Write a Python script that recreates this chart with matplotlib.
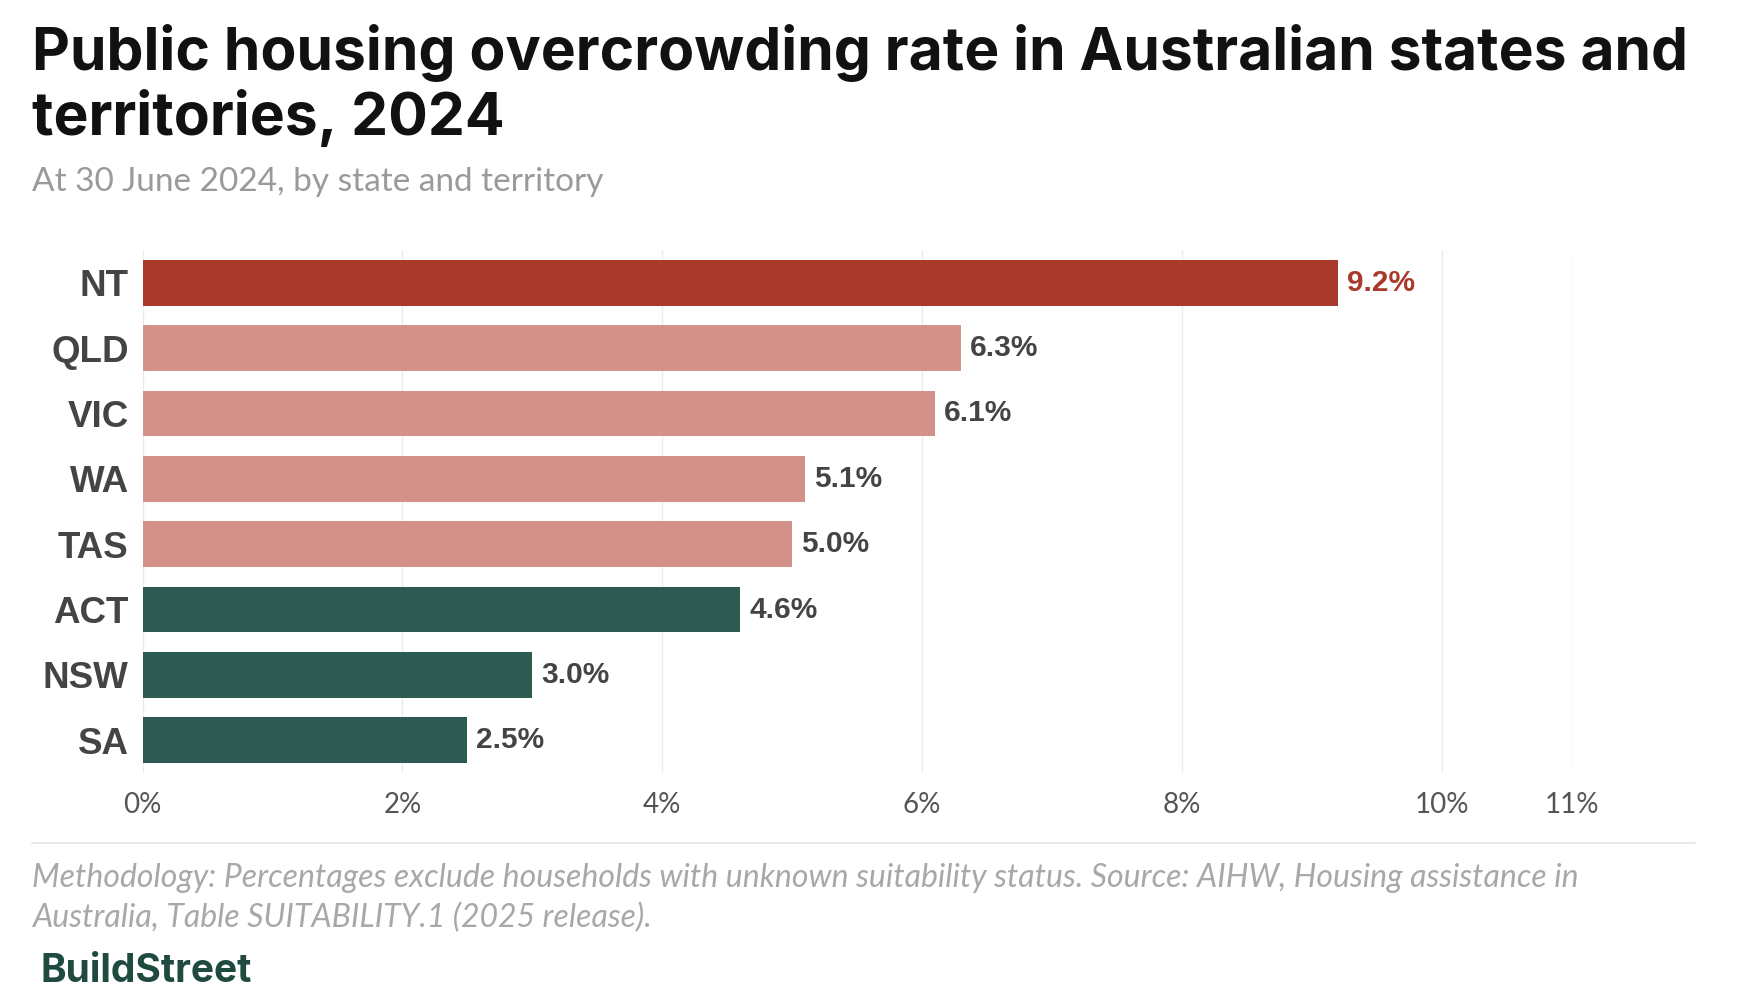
import matplotlib.pyplot as plt

# data (top to bottom)
states = ["NT", "QLD", "VIC", "WA", "TAS", "ACT", "NSW", "SA"]
rates = [9.2, 6.3, 6.1, 5.1, 5.0, 4.6, 3.0, 2.5]
groups = ["high", "mid", "mid", "mid", "mid", "low", "low", "low"]
xticks = [0, 2, 4, 6, 8, 10, 11]

colors = {"high": "#a93a2b", "mid": "#d3918a", "low": "#2d5a51"}
label_colors = {"high": "#a93a2b", "mid": "#444444", "low": "#444444"}

fig = plt.figure(figsize=(17.6, 10), dpi=100)
ax = fig.add_axes([0.081, 0.227, 0.812, 0.523])

ypos = list(range(len(states)))
ax.barh(ypos, rates, height=0.7, color=[colors[g] for g in groups], zorder=2)

for y, v, g in zip(ypos, rates, groups):
    ax.text(v + 0.07, y, f"{v:.1f}%", va="center", ha="left",
            fontsize=21.5, fontweight="bold", family="Liberation Sans",
            color=label_colors[g])

ax.set_xlim(0, 11)
ax.set_ylim(len(states) - 0.5, -0.5)
ax.set_yticks(ypos)
ax.set_yticklabels(states, fontsize=26.5, fontweight="bold",
                   family="Liberation Sans", color="#444444")
ax.set_xticks(xticks)
ax.set_xticklabels([f"{t}%" for t in xticks], fontsize=20, family="Lato",
                   color="#555555")
ax.tick_params(axis="both", length=0)
ax.tick_params(axis="x", pad=14)
ax.tick_params(axis="y", pad=10)
ax.grid(axis="x", color="#ebebeb", linewidth=1, zorder=0)
for s in ax.spines.values():
    s.set_visible(False)

# titles
fig.text(0.018, 0.930, "Public housing overcrowding rate in Australian states and",
         fontsize=42.3, fontweight="bold", family="Inter", color="#111111", va="baseline")
fig.text(0.018, 0.865, "territories, 2024",
         fontsize=42.3, fontweight="bold", family="Inter", color="#111111", va="baseline")
fig.text(0.018, 0.809, "At 30 June 2024, by state and territory",
         fontsize=24, family="Lato", color="#9a9a9a", va="baseline")

# separator line
fig.add_artist(plt.Line2D([0.018, 0.963], [0.157, 0.157], color="#e3e3e3", linewidth=1.2))

# footnote
fig.text(0.018, 0.122,
         "Methodology: Percentages exclude households with unknown suitability status. "
         "Source: AIHW, Housing assistance in",
         fontsize=23, family="Lato", style="italic",
         color="#a8a8a8", va="center")
fig.text(0.018, 0.082, "Australia, Table SUITABILITY.1 (2025 release).",
         fontsize=23, family="Lato", style="italic",
         color="#a8a8a8", va="center")
fig.text(0.023, 0.029, "BuildStreet", fontsize=28, fontweight="bold", family="Inter",
         color="#1e4a40", va="center")

fig.savefig("out.png", dpi=100, facecolor="white")
